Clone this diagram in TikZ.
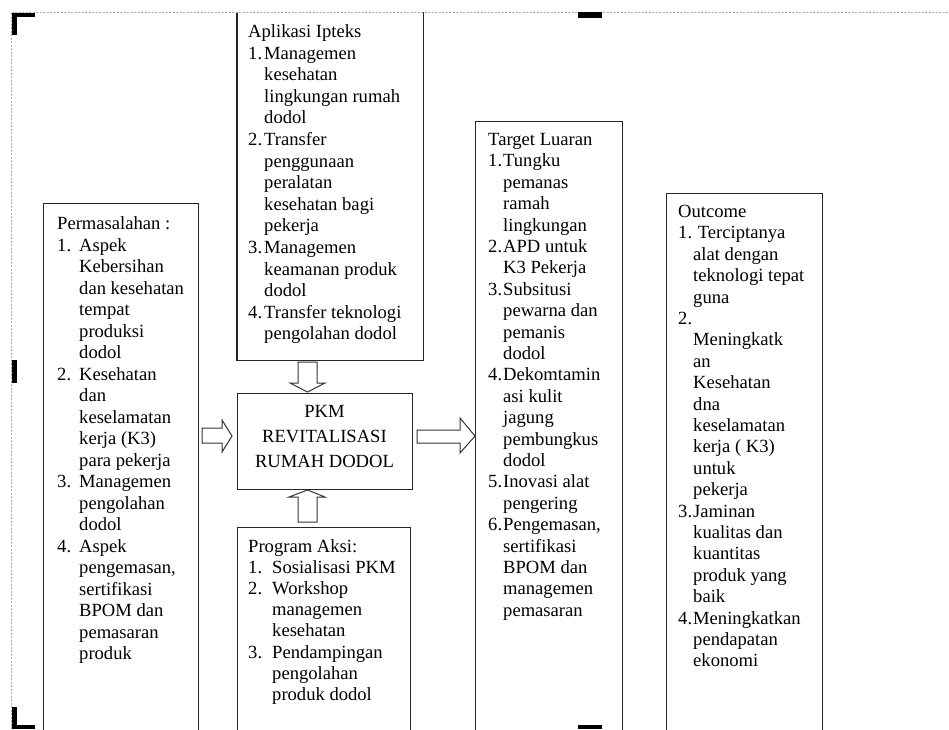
\documentclass[tikz,border=0pt]{standalone}
\usepackage{fontspec}
\setmainfont{Liberation Serif}
\newcommand\numit[2]{\makebox[#1][l]{#2}}
\newcommand\lst[2]{\parbox[t]{220pt}{\fontsize{18.6pt}{#1}\selectfont #2}}
\tikzset{
  boxline/.style={draw=black!85, line width=1.2pt},
  box/.style={boxline, fill=none, inner sep=0pt, anchor=north west},
  txt/.style={anchor=base west, inner sep=0pt, text=black},
  blockarrow/.style={draw=black!80, line width=1pt, fill=white, line join=miter},
  pageframe/.style={draw=gray!70, line width=0.6pt, dash pattern=on 2pt off 1.5pt},
  cropmark/.style={fill=black, draw=none}
}
\begin{document}
\begin{tikzpicture}[x=1pt,y=-1pt]
\useasboundingbox[fill=white] (0,0) rectangle (949,729);
\clip (0,0) rectangle (949,729);
% boxes
\node[box, minimum width=155pt, minimum height=540pt] (perm) at (43,203) {};
\node[box, draw=none, minimum width=185pt, minimum height=347pt] (apl) at (237,12) {};
\draw[boxline] (apl.north west) -- (apl.south west) -- (apl.south east) -- (apl.north east);
\node[box, minimum width=175pt, minimum height=96pt] (pkm) at (237,393) {};
\node[box, minimum width=173pt, minimum height=220pt] (prog) at (237,527) {};
\node[box, minimum width=147pt, minimum height=620pt] (targ) at (475,121) {};
\node[box, minimum width=156pt, minimum height=550pt] (outc) at (666,193) {};
% page frame
\draw[pageframe] (11,729) -- (11,12) -- (949,12);
\fill[cropmark] (12,13) rectangle (35,17);
\fill[cropmark] (12,13) rectangle (17,35);
\fill[cropmark] (12,360) rectangle (17,383);
\fill[cropmark] (12,707) rectangle (17,729);
\fill[cropmark] (12,725) rectangle (35,729);
\fill[cropmark] (578,12) rectangle (602,18);
\fill[cropmark] (578,725) rectangle (602,729);
% texts
\node[txt] (perm-t) at (57,229.5) {\lst{21.5pt}{%
Permasalahan :\\
\numit{22pt}{1.}Aspek\\
\hspace*{22pt}Kebersihan\\
\hspace*{22pt}dan kesehatan\\
\hspace*{22pt}tempat\\
\hspace*{22pt}produksi\\
\hspace*{22pt}dodol\\
\numit{22pt}{2.}Kesehatan\\
\hspace*{22pt}dan\\
\hspace*{22pt}keselamatan\\
\hspace*{22pt}kerja (K3)\\
\hspace*{22pt}para pekerja\\
\numit{22pt}{3.}Managemen\\
\hspace*{22pt}pengolahan\\
\hspace*{22pt}dodol\\
\numit{22pt}{4.}Aspek\\
\hspace*{22pt}pengemasan,\\
\hspace*{22pt}sertifikasi\\
\hspace*{22pt}BPOM dan\\
\hspace*{22pt}pemasaran\\
\hspace*{22pt}produk}};
\node[txt] (apl-t) at (248,37.5) {\lst{21.6pt}{%
Aplikasi Ipteks\\
\numit{16pt}{1.}Managemen\\
\hspace*{16pt}kesehatan\\
\hspace*{16pt}lingkungan rumah\\
\hspace*{16pt}dodol\\
\numit{16pt}{2.}Transfer\\
\hspace*{16pt}penggunaan\\
\hspace*{16pt}peralatan\\
\hspace*{16pt}kesehatan bagi\\
\hspace*{16pt}pekerja\\
\numit{16pt}{3.}Managemen\\
\hspace*{16pt}keamanan produk\\
\hspace*{16pt}dodol\\
\numit{16pt}{4.}Transfer teknologi\\
\hspace*{16pt}pengolahan dodol}};
\node[anchor=base, inner sep=0pt] (pkm-t) at (324.5,417.5) {\parbox[t]{175pt}{\centering\fontsize{18.6pt}{25pt}\selectfont
PKM\\ REVITALISASI\\ RUMAH DODOL}};
\node[txt] (prog-t) at (248,552) {\lst{21.2pt}{%
Program Aksi:\\
\numit{24pt}{1.}Sosialisasi PKM\\
\numit{24pt}{2.}Workshop\\
\hspace*{24pt}managemen\\
\hspace*{24pt}kesehatan\\
\numit{24pt}{3.}Pendampingan\\
\hspace*{24pt}pengolahan\\
\hspace*{24pt}produk dodol}};
\node[txt] (targ-t) at (488,145.5) {\lst{21.4pt}{%
Target Luaran\\
\numit{15pt}{1.}Tungku\\
\hspace*{15pt}pemanas\\
\hspace*{15pt}ramah\\
\hspace*{15pt}lingkungan\\
\numit{15pt}{2.}APD untuk\\
\hspace*{15pt}K3 Pekerja\\
\numit{15pt}{3.}Subsitusi\\
\hspace*{15pt}pewarna dan\\
\hspace*{15pt}pemanis\\
\hspace*{15pt}dodol\\
\numit{15pt}{4.}Dekomtamin\\
\hspace*{15pt}asi kulit\\
\hspace*{15pt}jagung\\
\hspace*{15pt}pembungkus\\
\hspace*{15pt}dodol\\
\numit{15pt}{5.}Inovasi alat\\
\hspace*{15pt}pengering\\
\numit{15pt}{6.}Pengemasan,\\
\hspace*{15pt}sertifikasi\\
\hspace*{15pt}BPOM dan\\
\hspace*{15pt}managemen\\
\hspace*{15pt}pemasaran}};
\node[txt] (outc-t) at (678,217.5) {\lst{21.4pt}{%
Outcome\\
\numit{15pt}{1.} Terciptanya\\
\hspace*{15pt}alat dengan\\
\hspace*{15pt}teknologi tepat\\
\hspace*{15pt}guna\\
2.\\
\hspace*{15pt}Meningkatk\\
\hspace*{15pt}an\\
\hspace*{15pt}Kesehatan\\
\hspace*{15pt}dna\\
\hspace*{15pt}keselamatan\\
\hspace*{15pt}kerja ( K3)\\
\hspace*{15pt}untuk\\
\hspace*{15pt}pekerja\\
\numit{15pt}{3.}Jaminan\\
\hspace*{15pt}kualitas dan\\
\hspace*{15pt}kuantitas\\
\hspace*{15pt}produk yang\\
\hspace*{15pt}baik\\
\numit{15pt}{4.}Meningkatkan\\
\hspace*{15pt}pendapatan\\
\hspace*{15pt}ekonomi}};
% block arrows
% apl -> pkm (down)
\draw[blockarrow] (298,362) -- (317,362) -- (317,383) -- (325,383) -- (307.5,392)
  -- (290,383) -- (298,383) -- cycle;
% prog -> pkm (up)
\draw[blockarrow] (298,522) -- (317,522) -- (317,497) -- (325,497) -- (307.5,490)
  -- (289,497) -- (298,497) -- cycle;
% perm -> pkm (right)
\draw[blockarrow] (202,428) -- (222,428) -- (222,420) -- (232,436) -- (222,452)
  -- (222,443) -- (202,443) -- cycle;
% pkm -> targ (right)
\draw[blockarrow] (417,430) -- (460,430) -- (460,418) -- (475,436) -- (460,453)
  -- (460,443) -- (417,443) -- cycle;
\end{tikzpicture}
\end{document}
